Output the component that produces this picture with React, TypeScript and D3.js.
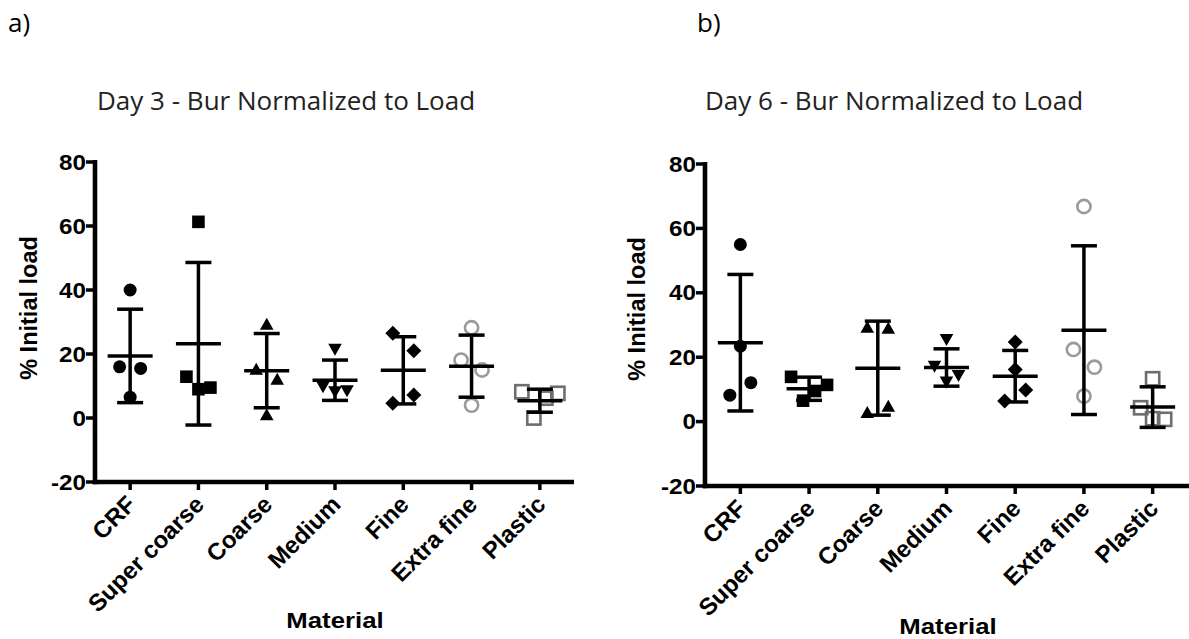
import React from "react";
import * as d3 from "d3";

// ---------- data ----------
const categories = ["CRF", "Super coarse", "Coarse", "Medium", "Fine", "Extra fine", "Plastic"];
const yTicks = [-20, 0, 20, 40, 60, 80];

const day3Values = [
  [40, 16, 15.5, 6.5],
  [61.3, 12.9, 9, 9.5],
  [29.3, 15.2, 12.1, 1],
  [21.5, 9.8, 8.2, 8.5],
  [26.5, 21, 4.6, 7.2],
  [28.2, 18.1, 15, 4],
  [8.2, 0, 6.2, 7.7],
];
const day3Means = [19.4, 23.2, 14.8, 11.8, 14.9, 16.2, 5.4];
const day3Sd = [14.6, 25.4, 11.6, 6.3, 10.5, 9.7, 3.6];

const day6Values = [
  [55, 23.4, 8.2, 12.1],
  [13.9, 6.5, 9.5, 11.4],
  [29.3, 29, 2.8, 4.8],
  [25.5, 17.2, 12.3, 14.3],
  [24.7, 16.2, 6.4, 9.8],
  [66.8, 22.4, 16.9, 7.9],
  [13.3, 4.3, 0.9, 0.7],
];
const day6Means = [24.5, 10.2, 16.6, 16.8, 14.1, 28.4, 4.5];
const day6Sd = [21.2, 3.6, 14.6, 5.8, 8.0, 26.2, 6.3];

const markerKinds = ["circle", "square", "triangleUp", "triangleDown", "diamond", "openCircle", "openSquare"];

// ---------- helpers ----------
const boldFont = "'Liberation Sans', Arial, Helvetica, sans-serif";
const titleFont = "'Open Sans', 'Noto Sans', sans-serif";
const stretch = 1.1;

function swarmOffsets(vals: number[], y: (v: number) => number, threshold = 20.2) {
  const idx = vals.map((_, i) => i).sort((a, b) => vals[b] - vals[a]);
  const clusters: number[][] = [];
  let cur: number[] = [];
  idx.forEach((i, k) => {
    if (k > 0 && Math.abs(y(vals[i]) - y(vals[idx[k - 1]])) >= threshold) {
      clusters.push(cur);
      cur = [];
    }
    cur.push(i);
  });
  clusters.push(cur);
  const off = new Array(vals.length).fill(0);
  clusters.forEach((c) => {
    const members = [...c].sort((a, b) => a - b);
    const n = members.length;
    const spacing = n === 2 ? 21 : 12;
    members.forEach((i, j) => (off[i] = (j - (n - 1) / 2) * spacing));
  });
  return off;
}

function Marker({ kind, x, y }: { kind: string; x: number; y: number }) {
  switch (kind) {
    case "circle":
      return <circle cx={x} cy={y} r={6.5} fill="#000" />;
    case "square":
      return <rect x={x - 6.3} y={y - 6.3} width={12.6} height={12.6} fill="#000" />;
    case "triangleUp":
      return <path d={`M${x},${y - 6.5}L${x + 6.8},${y + 5.5}L${x - 6.8},${y + 5.5}Z`} fill="#000" />;
    case "triangleDown":
      return <path d={`M${x},${y + 6.5}L${x + 6.8},${y - 5.5}L${x - 6.8},${y - 5.5}Z`} fill="#000" />;
    case "diamond":
      return <path d={`M${x},${y - 7.5}L${x + 7.5},${y}L${x},${y + 7.5}L${x - 7.5},${y}Z`} fill="#000" />;
    case "openCircle":
      return <circle cx={x} cy={y} r={6.6} fill="none" stroke="#9a9a9a" strokeWidth={2.6} />;
    case "openSquare":
      return <rect x={x - 6.6} y={y - 6.6} width={13.2} height={13.2} fill="none" stroke="#6e6e6e" strokeWidth={2.6} />;
    default:
      return null;
  }
}

type PanelProps = {
  values: number[][];
  means: number[];
  sds: number[];
  title: string;
  letter: string;
  letterX: number;
  axisX: number;
  axisEnd: number;
  xRange: [number, number];
  yRange: [number, number];
  titleX: number;
  yLabelPos: [number, number];
  xTitlePos: [number, number];
};

function Panel(p: PanelProps) {
  const x = d3.scaleBand<string>().domain(categories).range(p.xRange);
  const y = d3.scaleLinear().domain([-20, 80]).range(p.yRange);
  const cx = (c: string) => (x(c) as number) + x.bandwidth() / 2;
  const baseY = y(-20);
  const axisW = 4.6;

  return (
    <g>
      <text x={p.letterX} y={32} fontFamily={titleFont} fontSize={26} fill="#000">
        {p.letter}
      </text>
      <text x={p.titleX} y={110} fontFamily={titleFont} fontSize={26} fill="#222">
        {p.title}
      </text>

      {/* points */}
      {categories.map((c, ci) => {
        const offs = swarmOffsets(p.values[ci], y);
        return (
          <g key={"pts" + c}>
            {p.values[ci].map((v, i) => (
              <Marker key={i} kind={markerKinds[ci]} x={cx(c) + offs[i]} y={y(v)} />
            ))}
          </g>
        );
      })}

      {/* mean and SD bars */}
      {categories.map((c, ci) => {
        const m = p.means[ci];
        const s = p.sds[ci];
        const xc = cx(c);
        return (
          <g key={"bar" + c} stroke="#000" strokeWidth={3.5}>
            <line x1={xc} x2={xc} y1={y(m + s)} y2={y(m - s)} />
            <line x1={xc - 13} x2={xc + 13} y1={y(m + s)} y2={y(m + s)} />
            <line x1={xc - 13} x2={xc + 13} y1={y(m - s)} y2={y(m - s)} />
            <line x1={xc - 22.5} x2={xc + 22.5} y1={y(m)} y2={y(m)} />
          </g>
        );
      })}

      {/* y axis */}
      <line x1={p.axisX} x2={p.axisX} y1={y(80) - 2} y2={baseY + axisW / 2} stroke="#000" strokeWidth={axisW} />
      {yTicks.map((t) => (
        <g key={"yt" + t}>
          <line x1={p.axisX - 9} x2={p.axisX} y1={y(t)} y2={y(t)} stroke="#000" strokeWidth={3.5} />
          <text
            transform={`translate(${p.axisX - 9},${y(t)}) scale(${stretch},1)`}
            textAnchor="end"
            dominantBaseline="central"
            fontFamily={boldFont}
            fontWeight="bold"
            fontSize={22}
            fill="#000"
          >
            {t}
          </text>
        </g>
      ))}
      <text
        transform={`translate(${p.yLabelPos[0]},${p.yLabelPos[1]}) rotate(-90)`}
        textAnchor="middle"
        fontFamily={boldFont}
        fontWeight="bold"
        fontSize={23.5}
        fill="#000"
      >
        % Initial load
      </text>

      {/* x axis */}
      <line x1={p.axisX - axisW / 2} x2={p.axisEnd} y1={baseY} y2={baseY} stroke="#000" strokeWidth={axisW} />
      {categories.map((c) => (
        <g key={"xt" + c}>
          <line x1={cx(c)} x2={cx(c)} y1={baseY} y2={baseY + 8} stroke="#000" strokeWidth={3.5} />
          <text
            transform={`translate(${cx(c) + 7},${baseY + 24}) rotate(-45)`}
            textAnchor="end"
            fontFamily={boldFont}
            fontWeight="bold"
            fontSize={24}
            fill="#000"
          >
            {c}
          </text>
        </g>
      ))}
      <text
        transform={`translate(${p.xTitlePos[0]},${p.xTitlePos[1]}) scale(1.12,1)`}
        textAnchor="middle"
        fontFamily={boldFont}
        fontWeight="bold"
        fontSize={23}
        fill="#000"
      >
        Material
      </text>
    </g>
  );
}

export default function App() {
  return (
    <svg
      width={1189}
      height={639}
      style={{ position: "absolute", left: 0, top: 0, background: "#fff" }}
    >
      <rect width={1189} height={639} fill="#fff" />
      <Panel
        values={day3Values}
        means={day3Means}
        sds={day3Sd}
        title="Day 3 - Bur Normalized to Load"
        letter="a)"
        letterX={8}
        axisX={95}
        axisEnd={574}
        xRange={[96, 574]}
        yRange={[482, 162]}
        titleX={97}
        yLabelPos={[37, 308]}
        xTitlePos={[335, 628]}
      />
      <Panel
        values={day6Values}
        means={day6Means}
        sds={day6Sd}
        title="Day 6 - Bur Normalized to Load"
        letter="b)"
        letterX={697}
        axisX={705}
        axisEnd={1189}
        xRange={[706, 1187]}
        yRange={[486, 164]}
        titleX={705}
        yLabelPos={[645, 309]}
        xTitlePos={[948, 634]}
      />
    </svg>
  );
}
